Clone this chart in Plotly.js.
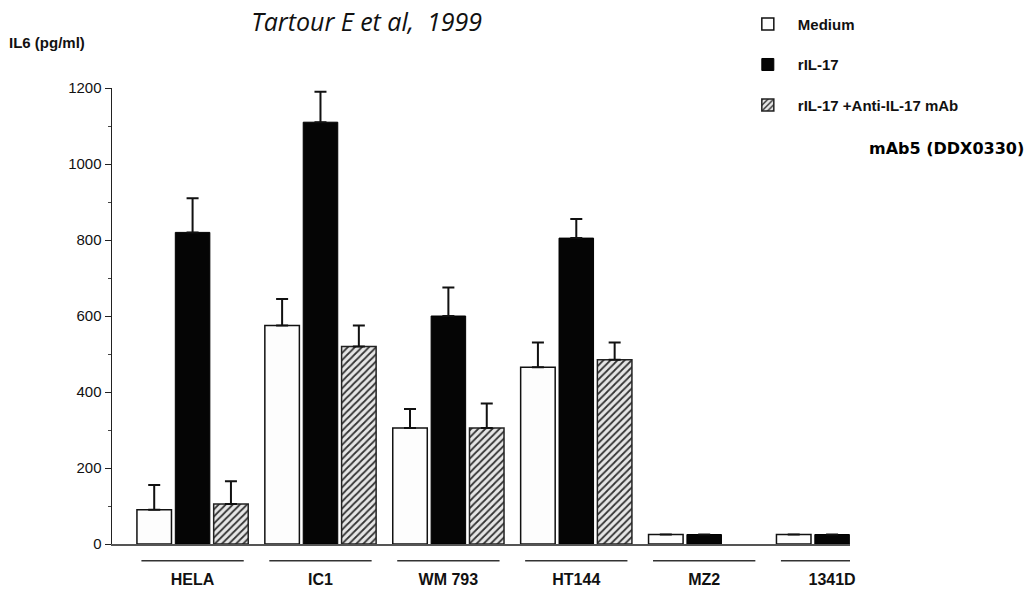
<!DOCTYPE html>
<html>
<head>
<meta charset="utf-8">
<script src="https://cdn.plot.ly/plotly-3.0.1.min.js"></script>
<style>
  body { margin: 0; background: #fff; }
  #chart { width: 1027px; height: 593px; }
</style>
</head>
<body>
<div id="chart"></div>
<script>
// cell lines and IL6 readings (pg/ml)
const cellLines = ['HELA', 'IC1', 'WM 793', 'HT144', 'MZ2', '1341D'];
const medium    = [90, 575, 305, 465, 25, 25];
const mediumTop = [155, 645, 355, 530, null, null];   // top of error bar
const ril17     = [820, 1110, 600, 805, 25, 25];
const ril17Top  = [910, 1190, 675, 855, null, null];
const antiMab   = [105, 520, 305, 485, null, null];
const antiTop   = [165, 575, 370, 530, null, null];
const yTicks    = [0, 200, 400, 600, 800, 1000, 1200];

function errUp(vals, tops) {
    return tops.map((t, i) => t == null ? NaN : t - vals[i]);
}

function errBar(vals, tops) {
    return {
        type: 'data', symmetric: false,
        array: errUp(vals, tops), arrayminus: vals.map(() => 0),
        color: '#111', thickness: 2, width: 6
    };
}

const traces = [
    {
        name: 'Medium', type: 'bar', x: cellLines, y: medium,
        marker: { color: '#fdfdfd', line: { color: '#111', width: 1.5 } },
        error_y: errBar(medium, mediumTop), legendgroup: 'a'
    },
    {
        name: 'rIL-17', type: 'bar', x: cellLines, y: ril17,
        marker: { color: '#050505', line: { color: '#000', width: 1 } },
        error_y: errBar(ril17, ril17Top), legendgroup: 'b'
    },
    {
        name: 'rIL-17 +Anti-IL-17 mAb', type: 'bar', x: cellLines, y: antiMab,
        marker: {
            color: '#e6e6e6', line: { color: '#222', width: 1.5 },
            pattern: { shape: '/', fgcolor: '#333', bgcolor: '#e6e6e6', size: 5, solidity: 0.35 }
        },
        error_y: errBar(antiMab, antiTop), legendgroup: 'c'
    }
];

// short rule under each group label
const underlines = cellLines.map((c, i) => ({
    type: 'line', xref: 'x', yref: 'paper',
    x0: i - 0.4, x1: i + 0.4, y0: -0.037, y1: -0.037,
    line: { color: '#333', width: 1.5 }
}));

const layout = {
    width: 1027, height: 593,
    margin: { l: 112, r: 177, t: 88, b: 49, autoexpand: false },
    paper_bgcolor: '#fff', plot_bgcolor: '#fff',
    font: { family: 'Liberation Sans, Arial, sans-serif', color: '#111' },
    barmode: 'group', bargap: 0.1, bargroupgap: 0.1,
    title: {
        text: '<i>Tartour E et al,  1999</i>',
        font: { family: 'Open Sans, Liberation Sans, sans-serif', size: 25, color: '#111' },
        x: 0.357, xanchor: 'center', y: 0.962, yanchor: 'middle'
    },
    xaxis: {
        type: 'category', showline: true, linecolor: '#555', linewidth: 2,
        ticks: '', showgrid: false, zeroline: false, automargin: false,
        tickfont: { size: 16, weight: 'bold', color: '#111' },
        ticklabelstandoff: 20, range: [-0.63, 5.14]
    },
    yaxis: {
        range: [0, 1200], tickvals: yTicks, ticks: 'outside', ticklen: 6,
        tickcolor: '#222', showline: true, linecolor: '#222', linewidth: 1.5,
        showgrid: false, zeroline: false, automargin: false,
        tickfont: { size: 15, color: '#111' },
        minor: { dtick: 100, ticks: 'outside', ticklen: 3, tickcolor: '#444' }
    },
    legend: {
        x: 0.848, xanchor: 'left', y: 1.176, yanchor: 'top',
        font: { size: 15, weight: 'bold', color: '#111' },
        tracegroupgap: 18, itemwidth: 50, bgcolor: 'rgba(0,0,0,0)'
    },
    shapes: underlines,
    annotations: [
        {
            text: '<b>IL6 (pg/ml)</b>', xref: 'paper', yref: 'paper',
            x: -0.142, y: 1.1, xanchor: 'left', yanchor: 'middle',
            showarrow: false, font: { size: 15, color: '#111' }
        },
        {
            text: '<b>mAb5 (DDX0330)</b>', xref: 'paper', yref: 'paper',
            x: 1.238, y: 0.868, xanchor: 'right', yanchor: 'middle',
            showarrow: false, font: { size: 16, color: '#000', family: 'DejaVu Sans, sans-serif' }
        }
    ]
};

Plotly.newPlot('chart', traces, layout, { displayModeBar: false, staticPlot: true });
</script>
</body>
</html>
